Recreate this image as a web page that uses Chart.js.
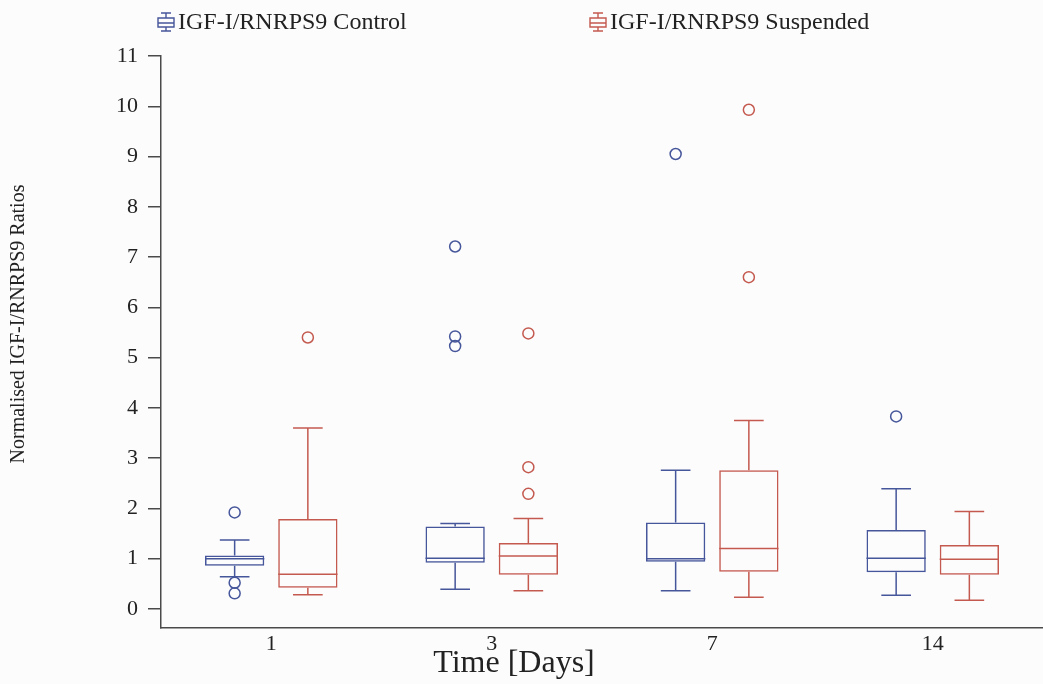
<!DOCTYPE html>
<html>
<head>
<meta charset="utf-8">
<script src="https://cdn.jsdelivr.net/npm/chart.js@4.4.1/dist/chart.umd.min.js"></script>
<style>
  html, body { margin: 0; padding: 0; background: #fcfcfd; overflow: hidden; }
  #wrap { width: 1043px; height: 684px; }
</style>
</head>
<body>
<div id="wrap"><canvas id="c" width="1043" height="684"></canvas></div>
<script>
// ---- data ----
const categories = ['1', '3', '7', '14'];
const yTickValues = [0, 1, 2, 3, 4, 5, 6, 7, 8, 9, 10, 11];

const controlLabel = 'IGF-I/RNRPS9 Control';
const controlMin = [0.64, 0.39, 0.36, 0.27];
const controlQ1 = [0.86, 0.92, 0.94, 0.73];
const controlMedian = [1.00, 1.01, 1.00, 1.01];
const controlQ3 = [1.06, 1.64, 1.72, 1.57];
const controlMax = [1.37, 1.70, 2.76, 2.39];
const controlOutliers = [[1.92, 0.52, 0.31], [7.21, 5.42, 5.23], [9.05], [3.83]];

const suspLabel = 'IGF-I/RNRPS9 Suspended';
const suspMin = [0.28, 0.36, 0.23, 0.17];
const suspQ1 = [0.42, 0.68, 0.74, 0.68];
const suspMedian = [0.69, 1.05, 1.20, 0.99];
const suspQ3 = [1.79, 1.31, 2.76, 1.27];
const suspMax = [3.60, 1.80, 3.75, 1.94];
const suspOutliers = [[5.40], [5.48, 2.82, 2.29], [9.93, 6.60], []];

const xTitle = 'Time [Days]';
const yTitle = 'Normalised IGF-I/RNRPS9 Ratios';

// ---- styles ----
const BLUE = '#46569a';
const RED = '#c45a4f';
const TEXT = '#222222';
const AXIS = '#4a4a4a';
const FONT = "'Liberation Serif', 'Times New Roman', serif";

const stats = [
  { min: controlMin, q1: controlQ1, med: controlMedian, q3: controlQ3, max: controlMax, out: controlOutliers },
  { min: suspMin, q1: suspQ1, med: suspMedian, q3: suspQ3, max: suspMax, out: suspOutliers }
];

const boxPlugin = {
  id: 'boxWhiskers',
  afterDatasetsDraw(chart) {
    const ctx = chart.ctx;
    const ys = chart.scales.y;
    chart.data.datasets.forEach((ds, di) => {
      const meta = chart.getDatasetMeta(di);
      const s = stats[di];
      ctx.save();
      ctx.strokeStyle = ds.borderColor;
      ctx.lineWidth = 1.5;
      meta.data.forEach((el, j) => {
        const x = el.x, w = el.width;
        const yMed = ys.getPixelForValue(s.med[j]);
        const yQ1 = ys.getPixelForValue(s.q1[j]);
        const yQ3 = ys.getPixelForValue(s.q3[j]);
        const yMin = ys.getPixelForValue(s.min[j]);
        const yMax = ys.getPixelForValue(s.max[j]);
        ctx.beginPath();
        ctx.moveTo(x - w / 2, yMed); ctx.lineTo(x + w / 2, yMed);
        ctx.moveTo(x, yQ3); ctx.lineTo(x, yMax);
        ctx.moveTo(x - w / 4, yMax); ctx.lineTo(x + w / 4, yMax);
        ctx.moveTo(x, yQ1); ctx.lineTo(x, yMin);
        ctx.moveTo(x - w / 4, yMin); ctx.lineTo(x + w / 4, yMin);
        ctx.stroke();
        s.out[j].forEach(v => {
          ctx.beginPath();
          ctx.arc(x, ys.getPixelForValue(v), 5.5, 0, Math.PI * 2);
          ctx.stroke();
        });
      });
      ctx.restore();
    });
  }
};

function drawIcon(ctx, cx, cy, color) {
  ctx.save();
  ctx.strokeStyle = color;
  ctx.lineWidth = 1.4;
  ctx.beginPath();
  ctx.moveTo(cx - 5, cy - 9); ctx.lineTo(cx + 5, cy - 9);
  ctx.moveTo(cx, cy - 9); ctx.lineTo(cx, cy - 4);
  ctx.rect(cx - 8, cy - 4, 16, 9);
  ctx.moveTo(cx - 8, cy + 1); ctx.lineTo(cx + 8, cy + 1);
  ctx.moveTo(cx, cy + 5); ctx.lineTo(cx, cy + 9);
  ctx.moveTo(cx - 5, cy + 9); ctx.lineTo(cx + 5, cy + 9);
  ctx.stroke();
  ctx.restore();
}

const textPlugin = {
  id: 'texts',
  afterDraw(chart) {
    const ctx = chart.ctx;
    ctx.save();
    ctx.fillStyle = TEXT;
    const legendPos = [166, 598];
    ctx.font = '24px ' + FONT;
    ctx.textBaseline = 'middle';
    ctx.textAlign = 'left';
    chart.data.datasets.forEach((ds, i) => {
      drawIcon(ctx, legendPos[i], 22, ds.borderColor);
      ctx.fillText(ds.label, legendPos[i] + 12, 23);
    });
    ctx.font = '32px ' + FONT;
    ctx.textAlign = 'center';
    ctx.fillText(xTitle, 514, 664);
    ctx.translate(19, 324);
    ctx.rotate(-Math.PI / 2);
    ctx.font = '20px ' + FONT;
    ctx.fillText(yTitle, 0, 0);
    ctx.restore();
  }
};

new Chart(document.getElementById('c'), {
  type: 'bar',
  data: {
    labels: categories,
    datasets: [
      {
        label: controlLabel,
        data: controlQ1.map((q, i) => [q, controlQ3[i]]),
        backgroundColor: 'rgba(0,0,0,0)',
        borderColor: BLUE,
        borderWidth: 1.5,
        borderSkipped: false
      },
      {
        label: suspLabel,
        data: suspQ1.map((q, i) => [q, suspQ3[i]]),
        backgroundColor: 'rgba(0,0,0,0)',
        borderColor: RED,
        borderWidth: 1.5,
        borderSkipped: false
      }
    ]
  },
  options: {
    responsive: false,
    animation: false,
    categoryPercentage: 0.664,
    barPercentage: 0.81,
    layout: { padding: { top: 56, right: 0, bottom: 0, left: 0 } },
    plugins: { legend: { display: false }, tooltip: { enabled: false } },
    scales: {
      x: {
        type: 'category',
        grid: { display: true, drawOnChartArea: false, drawTicks: false, color: 'rgba(0,0,0,0)' },
        border: { display: true, color: AXIS, width: 1.5 },
        ticks: { color: TEXT, font: { family: FONT, size: 22 }, padding: 3, maxRotation: 0 },
        afterFit(scale) { scale.height = 56; }
      },
      y: {
        min: -0.38,
        max: 11,
        grid: { display: true, drawOnChartArea: false, drawTicks: true, tickLength: 13, color: AXIS, lineWidth: 1.5 },
        border: { display: true, color: AXIS, width: 1.5 },
        ticks: { color: TEXT, font: { family: FONT, size: 22 }, padding: 10, stepSize: 1, includeBounds: false },
        afterBuildTicks(scale) { scale.ticks = yTickValues.map(v => ({ value: v })); },
        afterFit(scale) { scale.width = 161; }
      }
    }
  },
  plugins: [boxPlugin, textPlugin]
});
</script>
</body>
</html>
